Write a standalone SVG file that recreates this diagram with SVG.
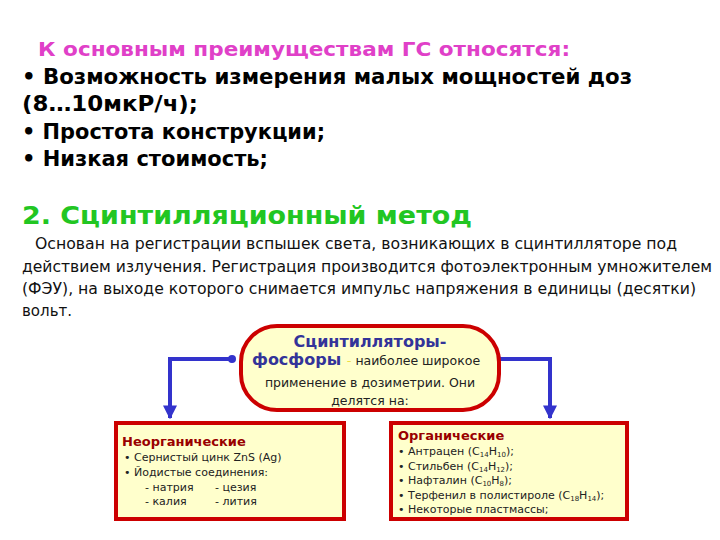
<svg xmlns="http://www.w3.org/2000/svg" width="720" height="540" viewBox="0 0 720 540">
<style>
text{font-family:"DejaVu Sans","Liberation Sans",sans-serif}
.b{font-weight:bold;font-size:21px;fill:#000}
.p{font-size:16px;fill:#111}
.s{font-size:11px;fill:#222}
.box{fill:#ffffcc;stroke:#cc0000;stroke-width:4}
.con{fill:none;stroke:#3333cc;stroke-width:4}
</style>
<defs><marker id="ah" viewBox="0 0 10 10" refX="9" refY="5" markerWidth="3.5" markerHeight="5" orient="auto" markerUnits="strokeWidth"><path d="M0,0L10,5L0,10z" fill="#3333cc"/></marker></defs>
<rect width="720" height="540" fill="#fff"/>
<text x="38" y="56" font-size="19" font-weight="bold" fill="#e040c8" textLength="532" lengthAdjust="spacingAndGlyphs">К основным преимуществам ГС относятся:</text>
<text class="b" x="22" y="84" textLength="610" lengthAdjust="spacingAndGlyphs">• Возможность измерения малых мощностей доз</text>
<text class="b" x="22" y="111" textLength="176" lengthAdjust="spacingAndGlyphs">(8…10мкР/ч);</text>
<text class="b" x="22" y="139" textLength="303" lengthAdjust="spacingAndGlyphs">• Простота конструкции;</text>
<text class="b" x="22" y="166" textLength="246" lengthAdjust="spacingAndGlyphs">• Низкая стоимость;</text>
<text x="22" y="224" font-size="25" font-weight="bold" fill="#22c622" textLength="450" lengthAdjust="spacingAndGlyphs">2. Сцинтилляционный метод</text>
<text class="p" x="35" y="249" textLength="642" lengthAdjust="spacingAndGlyphs">Основан на регистрации вспышек света, возникающих в сцинтилляторе под</text>
<text class="p" x="22" y="272" textLength="690" lengthAdjust="spacingAndGlyphs">действием излучения. Регистрация производится фотоэлектронным умножителем</text>
<text class="p" x="22" y="294" textLength="674" lengthAdjust="spacingAndGlyphs">(ФЭУ), на выходе которого снимается импульс напряжения в единицы (десятки)</text>
<text class="p" x="22" y="316" textLength="50" lengthAdjust="spacingAndGlyphs">вольт.</text>
<g id="connectors">
<path class="con" d="M232,359H170V418" marker-end="url(#ah)"/>
<path class="con" d="M497,359H550V418" marker-end="url(#ah)"/>
<circle cx="232" cy="359" r="4" fill="#3333cc"/>
<circle cx="497" cy="359" r="4" fill="#3333cc"/>
</g>
<g id="center">
<rect class="box" x="241" y="326" width="258" height="84" rx="36" stroke-width="5" stroke="#dd0000"/>
<text x="370" y="347" text-anchor="middle" font-size="16" font-weight="bold" fill="#333399">Сцинтилляторы-</text>
<text x="252" y="365" font-size="16" font-weight="bold" fill="#333399">фосфоры <tspan fill="#eedd44" font-weight="normal" font-size="13">-</tspan><tspan fill="#222" font-weight="normal" font-size="12.5"> наиболее широкое</tspan></text>
<text x="370" y="387" text-anchor="middle" font-size="12.5" fill="#222">применение в дозиметрии. Они</text>
<text x="370" y="405" text-anchor="middle" font-size="12.5" fill="#222">делятся на:</text>
</g>
<g id="inorganic">
<rect class="box" x="116" y="423" width="228" height="96"/>
<text x="122" y="446" font-size="13" font-weight="bold" fill="#990000">Неорганические</text>
<text class="s" x="124" y="461">•  Сернистый цинк ZnS (Ag)</text>
<text class="s" x="124" y="476">•  Йодистые соединения:</text>
<text class="s" x="145" y="491">- натрия</text><text class="s" x="215" y="491">- цезия</text>
<text class="s" x="145" y="505">- калия</text><text class="s" x="215" y="505">- лития</text>
</g>
<g id="organic">
<rect class="box" x="391" y="423" width="236" height="96"/>
<text x="398" y="440" font-size="13" font-weight="bold" fill="#990000">Органические</text>
<text class="s" x="398" y="455">•  Антрацен (C<tspan font-size="7" dy="2">14</tspan><tspan dy="-2">H</tspan><tspan font-size="7" dy="2">10</tspan><tspan dy="-2">);</tspan></text>
<text class="s" x="398" y="470">•  Стильбен (C<tspan font-size="7" dy="2">14</tspan><tspan dy="-2">H</tspan><tspan font-size="7" dy="2">12</tspan><tspan dy="-2">);</tspan></text>
<text class="s" x="398" y="484">•  Нафталин (C<tspan font-size="7" dy="2">10</tspan><tspan dy="-2">H</tspan><tspan font-size="7" dy="2">8</tspan><tspan dy="-2">);</tspan></text>
<text class="s" x="398" y="499">•  Терфенил в полистироле (C<tspan font-size="7" dy="2">18</tspan><tspan dy="-2">H</tspan><tspan font-size="7" dy="2">14</tspan><tspan dy="-2">);</tspan></text>
<text class="s" x="398" y="513">•  Некоторые пластмассы;</text>
</g>
</svg>
